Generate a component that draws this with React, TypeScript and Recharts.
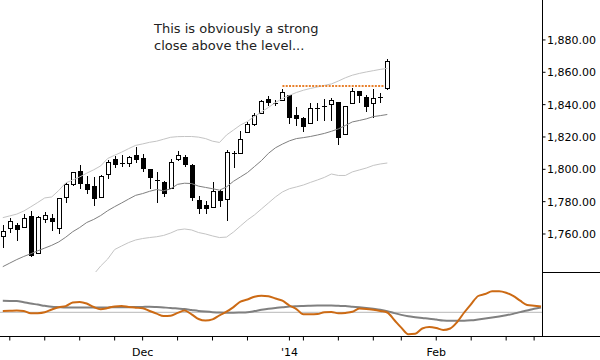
import React from 'react';
import { ComposedChart, LineChart, Line, Bar, XAxis, YAxis, ReferenceLine } from 'recharts';

// ---- price candles (trading-day index 0..55) ----
const opens = [1758.8, 1763.5, 1765.6, 1764.5, 1771.1, 1748.1, 1769.5, 1770.1, 1763.9, 1782.7, 1790.7, 1799.0, 1790.9, 1789.7, 1783.1, 1797.1, 1806.2, 1803.6, 1803.7, 1808.9, 1806.8, 1800.0, 1793.4, 1792.4, 1788.5, 1806.2, 1807.4, 1802.7, 1781.3, 1777.9, 1776.9, 1786.6, 1781.5, 1809.8, 1810.3, 1822.9, 1827.9, 1835.0, 1843.5, 1841.2, 1842.9, 1845.7, 1833.6, 1831.9, 1828.5, 1837.8, 1839.2, 1840.2, 1841.5, 1821.9, 1840.8, 1848.5, 1844.6, 1840.8, 1844.9, 1850.1];
const highs = [1765.6, 1769.9, 1766.8, 1772.4, 1774.4, 1771.1, 1773.8, 1772.4, 1782.3, 1791.6, 1798.4, 1802.7, 1796.1, 1795.4, 1796.2, 1805.8, 1808.3, 1808.6, 1808.3, 1814.0, 1809.5, 1800.2, 1798.4, 1792.5, 1806.2, 1811.5, 1808.9, 1803.0, 1783.2, 1780.6, 1792.4, 1786.9, 1812.0, 1811.3, 1823.7, 1829.5, 1834.7, 1842.9, 1845.5, 1842.9, 1849.9, 1846.0, 1838.7, 1832.6, 1840.8, 1840.8, 1843.3, 1843.9, 1841.8, 1839.4, 1850.5, 1848.6, 1846.0, 1849.5, 1847.4, 1868.1];
const lows = [1752.1, 1761.2, 1756.3, 1764.3, 1746.6, 1748.0, 1767.4, 1762.5, 1760.6, 1780.0, 1790.6, 1788.3, 1785.2, 1777.9, 1782.9, 1794.5, 1801.3, 1802.1, 1802.3, 1804.7, 1799.2, 1788.3, 1779.8, 1783.5, 1788.3, 1805.8, 1802.3, 1781.0, 1772.8, 1772.8, 1776.7, 1777.3, 1768.7, 1801.4, 1810.1, 1822.8, 1827.7, 1834.8, 1839.8, 1839.8, 1842.7, 1828.5, 1827.4, 1823.9, 1828.4, 1830.5, 1830.5, 1830.5, 1815.7, 1821.7, 1840.7, 1841.8, 1836.1, 1832.6, 1841.8, 1849.9];
const closes = [1761.9, 1768.0, 1762.9, 1770.1, 1747.0, 1770.3, 1771.6, 1768.2, 1782.1, 1790.9, 1798.2, 1791.7, 1788.0, 1782.1, 1795.9, 1804.7, 1803.3, 1803.7, 1807.8, 1806.2, 1801.0, 1795.4, 1793.5, 1785.5, 1804.8, 1808.9, 1803.1, 1782.6, 1775.9, 1775.9, 1786.6, 1781.0, 1810.9, 1809.9, 1818.6, 1828.0, 1833.6, 1842.3, 1841.7, 1841.3, 1848.0, 1832.6, 1831.9, 1827.0, 1837.8, 1837.9, 1839.3, 1842.9, 1819.8, 1839.2, 1848.5, 1846.0, 1839.2, 1843.9, 1845.0, 1867.2];

// ---- bands ----
const upperBand = [1770.1, 1771.2, 1772.3, 1774.2, 1776.8, 1779.5, 1782.3, 1782.9, 1786.9, 1791.6, 1793.4, 1795.3, 1797.6, 1799.7, 1802.1, 1806.7, 1808.7, 1810.6, 1812.8, 1814.8, 1815.7, 1816.7, 1817.4, 1818.6, 1819.8, 1820.2, 1820.3, 1820.3, 1819.9, 1819.0, 1817.4, 1816.6, 1821.2, 1824.3, 1827.4, 1829.6, 1832.7, 1835.5, 1838.3, 1841.3, 1843.8, 1845.7, 1847.5, 1848.9, 1850.0, 1850.9, 1851.9, 1852.8, 1854.6, 1856.6, 1858.2, 1859.3, 1860.2, 1861.0, 1861.8, 1862.4];
const middleBand = [1739.8, 1742.0, 1744.2, 1746.1, 1747.8, 1749.6, 1751.3, 1753.0, 1755.1, 1758.0, 1761.4, 1764.0, 1767.1, 1769.0, 1771.4, 1774.4, 1776.9, 1779.2, 1781.6, 1783.9, 1785.0, 1786.4, 1787.5, 1786.7, 1787.9, 1790.7, 1791.4, 1791.2, 1789.6, 1788.8, 1788.0, 1787.1, 1789.1, 1792.6, 1795.3, 1798.0, 1801.7, 1805.4, 1809.9, 1813.3, 1815.6, 1817.6, 1819.0, 1819.6, 1820.3, 1821.2, 1822.2, 1823.5, 1825.0, 1827.1, 1829.3, 1830.2, 1831.2, 1832.6, 1833.2, 1833.9];
const lowerBand = [1709.5, 1712.8, 1716.0, 1717.9, 1718.8, 1719.6, 1720.3, 1723.1, 1723.2, 1724.4, 1729.3, 1732.7, 1733.7, 1735.0, 1740.2, 1744.5, 1750.4, 1752.6, 1754.7, 1756.3, 1757.2, 1757.8, 1758.3, 1759.1, 1760.6, 1762.5, 1763.1, 1762.5, 1760.9, 1760.0, 1758.8, 1757.8, 1758.1, 1761.2, 1765.0, 1768.7, 1771.8, 1775.5, 1779.2, 1782.9, 1786.0, 1788.0, 1789.1, 1790.3, 1791.9, 1793.4, 1795.0, 1797.1, 1796.2, 1796.2, 1798.4, 1799.6, 1800.8, 1802.4, 1803.3, 1803.9];

// ---- resistance level ----
const levelValue = 1851.5;
const levelFrom = 40;
const levelTo = 54.5;

// ---- lower oscillator panel (index 0..77) ----
const cycleLine = [1.3, 1.5, 1.7, 1.3, -1.0, -0.9, 0.0, 2.8, 5.1, 6.2, 9.8, 10.4, 8.8, 5.3, 3.1, 4.3, 5.9, 6.3, 5.3, 4.6, 4.0, 1.3, -1.3, -3.7, -3.4, -0.6, 1.7, -2.0, -6.7, -8.3, -7.1, -3.1, 0.6, 5.2, 10.6, 12.8, 15.6, 16.6, 16.1, 13.8, 11.6, 6.8, 3.2, -2.0, -2.0, -1.8, 0.1, 0.3, -1.0, -0.6, 0.5, 3.7, 3.4, 2.5, 1.3, -0.2, -7.7, -15.3, -21.9, -21.5, -16.2, -14.7, -15.7, -17.7, -16.2, -9.7, -0.2, 8.3, 16.3, 18.3, 21.1, 21.1, 19.6, 16.4, 11.6, 7.3, 6.5, 5.8];
const signalLine = [11.6, 11.4, 11.3, 10.1, 8.8, 7.7, 6.5, 5.5, 5.1, 4.8, 4.8, 4.8, 4.8, 4.8, 4.8, 4.9, 5.0, 5.0, 5.1, 5.3, 5.4, 5.5, 5.2, 4.8, 4.4, 3.8, 3.2, 2.3, 1.4, 0.7, 0.1, -0.3, -0.4, -0.4, -0.2, 0.1, 1.2, 2.5, 3.6, 4.4, 5.0, 5.7, 6.1, 6.4, 6.6, 6.8, 6.9, 6.8, 6.5, 6.2, 5.6, 5.0, 4.3, 3.5, 2.6, 1.2, -0.8, -2.6, -4.0, -4.9, -5.7, -6.4, -7.3, -8.2, -8.4, -8.4, -8.4, -8.0, -7.2, -6.3, -5.3, -4.2, -3.0, -1.6, 0.2, 1.8, 3.6, 4.8];

// ---- axes ----
const xTickIndex = [1, 6, 11, 16, 20, 25, 30, 35, 41, 43, 48, 53, 57, 62, 67, 72, 76];
const monthLabelIndex = [20, 41, 62];
const monthLabels = ['Dec', "'14", 'Feb'];
const yTicks = [1760, 1780, 1800, 1820, 1840, 1860, 1880];

const X_DOMAIN: [number, number] = [-0.4, 77.2];
const FONT = 'DejaVu Sans';

const priceData = opens.map((o, i) => ({
  i,
  open: o,
  high: highs[i],
  low: lows[i],
  close: closes[i],
  range: [lows[i], highs[i]],
  upper: upperBand[i],
  mid: middleBand[i],
  lower: lowerBand[i],
}));

const oscData = cycleLine.map((v, i) => ({ i, cycle: v, signal: signalLine[i] }));

const fmt = new Intl.NumberFormat('en-US', { minimumFractionDigits: 2, maximumFractionDigits: 2 });

const Candle = (props: any) => {
  const { x, y, width, height, payload } = props;
  if (!payload || x == null || y == null) return null;
  const { open, high, low, close } = payload;
  const top = Math.min(y, y + height);
  const bottom = Math.max(y, y + height);
  const span = high - low;
  const ppu = span > 0 ? (bottom - top) / span : 0;
  const toY = (v: number) => top + (high - v) * ppu;
  const cx = Math.round(x + width / 2);
  const wx = cx + 0.5;
  const yo = toY(open);
  const yc = toY(close);
  const bTop = Math.round(Math.min(yo, yc));
  const bBot = Math.round(Math.max(yo, yc));
  const up = close >= open;
  const bodyH = bBot - bTop;
  return (
    <g>
      <line x1={wx} x2={wx} y1={Math.round(top)} y2={Math.round(bottom) + 1} stroke="#000" strokeWidth={1} />
      {bodyH < 1 ? (
        <line x1={cx - 2} x2={cx + 3} y1={bTop + 0.5} y2={bTop + 0.5} stroke="#000" strokeWidth={1} />
      ) : (
        <rect
          x={cx - 1.5}
          y={bTop + 0.5}
          width={4}
          height={bodyH}
          fill={up ? '#fff' : '#000'}
          stroke="#000"
          strokeWidth={1}
        />
      )}
    </g>
  );
};

const xTickFormatter = (v: number) => {
  const k = monthLabelIndex.indexOf(v);
  return k >= 0 ? monthLabels[k] : '';
};

export default function App() {
  return (
    <div style={{ position: 'absolute', left: 0, top: 0, width: 600, height: 360, background: '#fff' }}>
      <div style={{ position: 'absolute', left: 0, top: 0 }}>
        <ComposedChart width={600} height={272} data={priceData} margin={{ top: 0, right: 0, bottom: 0, left: 0 }}>
          <XAxis type="number" dataKey="i" domain={X_DOMAIN} allowDataOverflow hide scale="linear" />
          <YAxis
            orientation="right"
            width={57.5}
            domain={[1736.5, 1904.7]}
            allowDataOverflow
            ticks={yTicks}
            interval={0}
            tickSize={3}
            tickMargin={1.5}
            tickFormatter={(v: number) => fmt.format(v)}
            tick={{ fontSize: 11, fontFamily: FONT, fill: '#000' }}
            axisLine={{ stroke: '#000' }}
            tickLine={{ stroke: '#000' }}
          />
          <Line type="linear" dataKey="upper" stroke="#c4c4c4" strokeWidth={1} dot={false} activeDot={false} isAnimationActive={false} />
          <Line type="linear" dataKey="lower" stroke="#c4c4c4" strokeWidth={1} dot={false} activeDot={false} isAnimationActive={false} />
          <Line type="linear" dataKey="mid" stroke="#808080" strokeWidth={1} dot={false} activeDot={false} isAnimationActive={false} />
          <ReferenceLine
            segment={[{ x: levelFrom, y: levelValue }, { x: levelTo, y: levelValue }]}
            stroke="#e8802c"
            strokeWidth={2}
            strokeDasharray="2 1.3"
          />
          <Bar dataKey="range" barSize={5} shape={Candle} activeBar={false} isAnimationActive={false} />
        </ComposedChart>
      </div>
      <div style={{ position: 'absolute', left: 0, top: 272 }}>
        <LineChart width={600} height={88} data={oscData} margin={{ top: 0, right: 0, bottom: 0, left: 0 }}>
          <XAxis
            type="number"
            dataKey="i"
            domain={X_DOMAIN}
            allowDataOverflow
            scale="linear"
            ticks={xTickIndex}
            interval={0}
            height={23.5}
            tickSize={4}
            tickMargin={8}
            tickFormatter={xTickFormatter}
            tick={{ fontSize: 11, fontFamily: FONT, fill: '#000' }}
            axisLine={{ stroke: '#000' }}
            tickLine={{ stroke: '#000' }}
          />
          <YAxis
            orientation="right"
            width={57.5}
            domain={[-24.2, 40.3]}
            allowDataOverflow
            tick={false}
            tickLine={false}
            axisLine={{ stroke: '#000' }}
          />
          <ReferenceLine y={0} stroke="#b8b8b8" strokeWidth={1} />
          <Line type="monotone" dataKey="signal" stroke="#808080" strokeWidth={2} dot={false} activeDot={false} isAnimationActive={false} />
          <Line type="monotone" dataKey="cycle" stroke="#cc6a14" strokeWidth={2} dot={false} activeDot={false} isAnimationActive={false} />
        </LineChart>
      </div>
      <div style={{ position: 'absolute', left: 542, top: 272, width: 58, height: 1, background: '#000' }} />
      <div style={{ position: 'absolute', left: 542, top: 336, width: 58, height: 1, background: '#000' }} />
      <div
        style={{
          position: 'absolute',
          left: 154,
          top: 20,
          fontFamily: FONT,
          fontSize: 13,
          lineHeight: '17px',
          color: '#222',
          whiteSpace: 'pre',
        }}
      >
        {'This is obviously a strong\nclose above the level...'}
      </div>
    </div>
  );
}
